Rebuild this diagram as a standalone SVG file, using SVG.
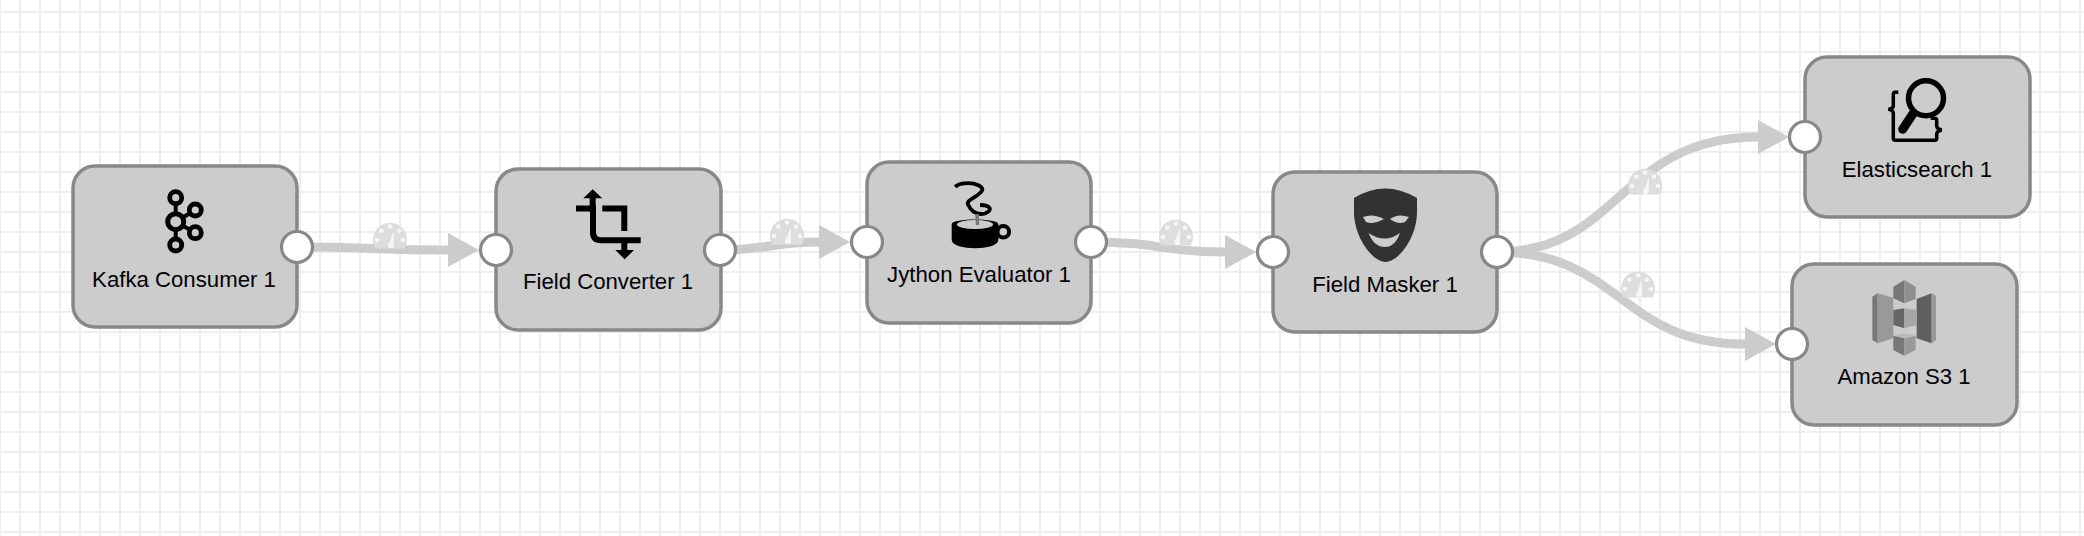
<svg xmlns="http://www.w3.org/2000/svg" width="2084" height="536" viewBox="0 0 2084 536">
<style>
.box{fill:#ccc;stroke:#888;stroke-width:3.5}
.port{fill:#fff;stroke:#888;stroke-width:3.2}
.label{font-family:"Liberation Sans",Arial,sans-serif;font-size:22.2px;fill:#000;text-anchor:middle}
.conn{fill:none;stroke:#ccc;stroke-width:9;marker-end:url(#arrow)}
.ic{fill:none;stroke:#000}
</style>
<defs>
<pattern id="grid" width="20" height="20" patternUnits="userSpaceOnUse">
<rect width="20" height="20" fill="#fff"/>
<rect x="19" width="1" height="20" fill="#eee"/>
<rect x="0" width="1" height="20" fill="#eee"/>
<rect y="11" width="20" height="2" fill="#eee"/>
</pattern>
<marker id="arrow" markerUnits="userSpaceOnUse" markerWidth="32" markerHeight="34" viewBox="0 0 32 34" refX="0" refY="17" orient="auto">
<path d="M0,0L31,17L0,34Z" fill="#ccc"/>
</marker>
<symbol id="gauge" overflow="visible">
<path d="M-14.5,9.5A17,17 0 1 1 14.5,9.5Z" fill="#ddd"/>
<g fill="#f6f6f6">
<circle cx="-8.7" cy="-8.3" r="2.3"/><circle cx="0" cy="-12.5" r="2.3"/><circle cx="9" cy="-8.3" r="2.3"/><circle cx="-13" cy="1" r="2.3"/><circle cx="13" cy="1" r="2.3"/>
<circle cx="1" cy="6.3" r="3"/><path d="M4,-8L3.8,5H-1.2Z"/>
</g>
</symbol>
<filter id="soft" x="-10%" y="-10%" width="120%" height="120%"><feGaussianBlur stdDeviation="0.6"/></filter>
</defs>
<rect id="background" width="2084" height="536" fill="url(#grid)"/>
<g id="connectors">
<path class="conn" d="M297,247C372,247 372,250 448,250"/>
<path class="conn" d="M720,250C770,250 770,242 819,242"/>
<path class="conn" d="M1091,242C1160,242 1160,252 1225,252"/>
<path class="conn" d="M1497,252C1620,252 1620,137 1758,137"/>
<path class="conn" d="M1497,252C1620,252 1620,344 1745,344"/>
<use href="#gauge" x="390" y="239"/>
<use href="#gauge" x="787" y="235"/>
<use href="#gauge" x="1176" y="236"/>
<use href="#gauge" x="1645" y="185"/>
<use href="#gauge" x="1638" y="288"/>
</g>
<g id="kafka-consumer">
<rect class="box" x="73" y="166" width="224" height="161" rx="22"/>
<g class="ic">
<path stroke-width="4" d="M175.7,198V245M175.7,221.7L195.3,210M175.7,221.7L195.3,232.7"/>
<g fill="#ccc" stroke-width="4.8"><circle cx="175.7" cy="197.7" r="6"/><circle cx="195.3" cy="210" r="6"/><circle cx="195.3" cy="232.7" r="6"/><circle cx="175.7" cy="245" r="6"/><circle cx="175.7" cy="221.7" r="8" stroke-width="5"/></g>
</g>
<text class="label" x="184" y="287">Kafka Consumer 1</text>
<circle class="port" cx="297" cy="247" r="15.5"/>
</g>
<g id="field-converter">
<rect class="box" x="496" y="169" width="225" height="161" rx="22"/>
<g class="ic" stroke-width="6">
<path d="M576,208.500H593V232Q593,240.300 601,240.300H640.700"/>
<path d="M592.700,198V212"/>
<path d="M602.300,208.500H624.300V231M624.300,240V250"/>
</g>
<path d="M592.700,189.300L602.300,198.300H583.300ZM624.700,259.300L615.300,250H634Z" fill="#000"/>
<text class="label" x="608" y="289">Field Converter 1</text>
<circle class="port" cx="496" cy="250" r="15.5"/>
<circle class="port" cx="720" cy="250" r="15.500"/>
</g>
<g id="jython-evaluator">
<rect class="box" x="867" y="162" width="224" height="161" rx="22"/>
<g filter="url(#soft)">
<path d="M955,186.700Q960,183 965,183.300C975,182 985,187 981.700,191C977,198 965,200 968.300,205C972,213 978,215 985,213.500C994,210 990,205 980,205" fill="none" stroke="#000" stroke-width="3.800"/>
<circle cx="1003.300" cy="231.700" r="5.800" fill="none" stroke="#000" stroke-width="4"/>
<path d="M951.700,224C952,218 998,218 998.300,224V240C998,251 952,251 951.700,240Z" fill="#000"/>
<ellipse cx="975" cy="224.500" rx="18" ry="4.500" fill="#ccc"/>
<path d="M977,214L977.500,225" stroke="#777" stroke-width="3.500"/>
</g>
<text class="label" x="979" y="282">Jython Evaluator 1</text>
<circle class="port" cx="867" cy="242" r="15.500"/>
<circle class="port" cx="1091" cy="242" r="15.500"/>
</g>
<g id="field-masker">
<rect class="box" x="1273" y="172" width="224" height="160" rx="22"/>
<g filter="url(#soft)">
<path d="M1354,198Q1385,179 1417,198V212C1417,238 1398,262 1385.500,262C1373,262 1354,238 1354,212Z" fill="#333"/>
<path d="M1363,217Q1373,213 1384,219Q1373,225 1366,222ZM1409,217Q1398,213 1390,219Q1398,225 1405,222ZM1368.500,233Q1385,244 1400,233Q1395,247 1385,247Q1374,247 1368.500,233Z" fill="#ccc"/>
</g>
<text class="label" x="1385" y="292">Field Masker 1</text>
<circle class="port" cx="1273" cy="252" r="15.500"/>
<circle class="port" cx="1497" cy="252" r="15.500"/>
</g>
<g id="elasticsearch">
<rect class="box" x="1805" y="57" width="225" height="160" rx="22"/>
<g class="ic">
<circle cx="1926" cy="98.300" r="17.500" stroke-width="5.500"/>
<path d="M1913.300,113.300L1902.700,129.300" stroke-width="9" stroke-linecap="round"/>
<path stroke-width="3.500" d="M1898.300,92.300H1895Q1893.300,92.300 1893.300,95V106Q1893,109 1888.300,109.300Q1893,110 1893.300,113V138.500Q1893.300,140.300 1896,140.300H1935Q1936.700,140.300 1936.700,138V134Q1937,131 1941.700,130Q1937,129 1936.700,126V120Q1936.700,118.300 1934,118.300H1930.700"/>
</g>
<text class="label" x="1917" y="177">Elasticsearch 1</text>
<circle class="port" cx="1805" cy="137" r="15.500"/>
</g>
<g id="amazon-s3">
<rect class="box" x="1792" y="264" width="225" height="161" rx="22"/>
<g transform="translate(1865,275) scale(.3333)" filter="url(#soft)">
<path d="M22,65L38,55V205L22,195Z" fill="#777"/>
<path d="M38,55L85,68V190L38,205Z" fill="#999"/>
<path d="M155,72L200,55V205L155,190Z" fill="#5f5f5f"/>
<path d="M200,55L213,62V195L200,205Z" fill="#999"/>
<path d="M85,35L118,15V85L85,70Z" fill="#777"/>
<path d="M118,15L152,35V72L118,85Z" fill="#8f8f8f"/>
<path d="M85,105L118,100V160L85,150Z" fill="#666"/>
<path d="M118,100L155,105V150L118,160Z" fill="#a6a6a6"/>
<path d="M85,182L118,175L152,182L118,190Z" fill="#bbb"/>
<path d="M85,182L118,190V242L85,225Z" fill="#777"/>
<path d="M118,190L152,182V225L118,242Z" fill="#999"/>
</g>
<text class="label" x="1904" y="384">Amazon S3 1</text>
<circle class="port" cx="1792" cy="344" r="15.500"/>
</g>
</svg>
